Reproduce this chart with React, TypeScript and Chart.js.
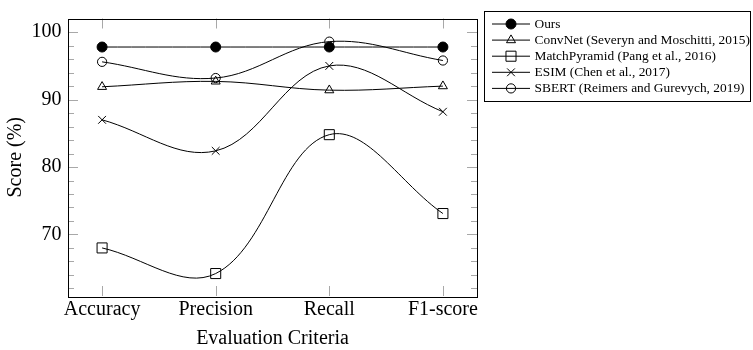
import React, { useEffect, useRef } from "react";
import { Chart, registerables } from "chart.js";
import { drawPoint } from "chart.js/helpers";

Chart.register(...registerables);

const categories = ["Accuracy", "Precision", "Recall", "F1-score"];
const yTickValues = [70, 80, 90, 100];
const seriesNames = [
  "Ours",
  "ConvNet (Severyn and Moschitti, 2015)",
  "MatchPyramid (Pang et al., 2016)",
  "ESIM (Chen et al., 2017)",
  "SBERT (Reimers and Gurevych, 2019)",
];
const oursValues = [97.8, 97.8, 97.8, 97.8];
const convnetValues = [91.9, 92.7, 91.4, 92.0];
const matchPyramidValues = [68.0, 64.2, 84.8, 73.1];
const esimValues = [87.0, 82.4, 95.0, 88.2];
const sbertValues = [95.6, 93.2, 98.6, 95.8];

const SERIF = "'Liberation Serif', 'Times New Roman', serif";

const markerStyles = [
  { pointStyle: "circle", radius: 5, fill: "#000" },
  { pointStyle: "triangle", radius: 5.2, fill: "rgba(0,0,0,0)" },
  { pointStyle: "rect", radius: 7.1, fill: "rgba(0,0,0,0)" },
  { pointStyle: "crossRot", radius: 5.5, fill: "rgba(0,0,0,0)" },
  { pointStyle: "circle", radius: 4.6, fill: "rgba(0,0,0,0)" },
];

const allValues = [oursValues, convnetValues, matchPyramidValues, esimValues, sbertValues];

const framePlugin = {
  id: "pgfFrame",
  beforeDatasetsDraw(chart: any) {
    const { ctx, chartArea } = chart;
    const xs = chart.scales.x;
    const ys = chart.scales.y;
    ctx.save();
    ctx.strokeStyle = "#a8a8a8";
    ctx.lineWidth = 1;
    ctx.beginPath();
    categories.forEach((_, i) => {
      const px = Math.round(xs.getPixelForValue(i)) + 0.5;
      ctx.moveTo(px, chartArea.bottom);
      ctx.lineTo(px, chartArea.bottom - 10);
      ctx.moveTo(px, chartArea.top);
      ctx.lineTo(px, chartArea.top + 10);
    });
    for (let v = 62; v <= 102; v += 2) {
      const py = Math.round(ys.getPixelForValue(v)) + 0.5;
      if (py < chartArea.top || py > chartArea.bottom) continue;
      const len = v % 10 === 0 ? 10 : 6;
      ctx.moveTo(chartArea.left, py);
      ctx.lineTo(chartArea.left + len, py);
      ctx.moveTo(chartArea.right, py);
      ctx.lineTo(chartArea.right - len, py);
    }
    ctx.stroke();
    ctx.restore();
  },
  afterDatasetsDraw(chart: any) {
    const { ctx, chartArea } = chart;
    ctx.save();
    ctx.strokeStyle = "#000";
    ctx.lineWidth = 1;
    ctx.strokeRect(
      Math.round(chartArea.left) + 0.5,
      Math.round(chartArea.top) + 0.5,
      Math.round(chartArea.right - chartArea.left),
      Math.round(chartArea.bottom - chartArea.top)
    );
    // legend
    const bx = 484.5, by = 11.5, bw = 266, bh = 90;
    ctx.strokeRect(bx, by, bw, bh);
    ctx.font = `13.4px ${SERIF}`;
    ctx.textBaseline = "middle";
    ctx.textAlign = "left";
    ctx.fillStyle = "#000";
    seriesNames.forEach((name, i) => {
      const y = 24 + i * 16.1;
      ctx.beginPath();
      ctx.lineWidth = 1;
      ctx.strokeStyle = "#000";
      ctx.moveTo(492, y);
      ctx.lineTo(530, y);
      ctx.stroke();
      const m = markerStyles[i];
      ctx.fillStyle = m.fill;
      ctx.strokeStyle = "#000";
      drawPoint(ctx, { pointStyle: m.pointStyle, radius: m.radius, rotation: 0, borderWidth: 1 } as any, 511, y);
      ctx.fillStyle = "#000";
      ctx.fillText(name, 534.5, y + 0.5);
    });
    ctx.restore();
  },
};

export default function App() {
  const canvasRef = useRef<HTMLCanvasElement | null>(null);

  useEffect(() => {
    if (!canvasRef.current) return;
    const datasets = allValues.map((vals, i) => ({
      label: seriesNames[i],
      data: vals.map((v, j) => ({ x: j, y: v })),
      borderColor: "#000",
      borderWidth: 1,
      backgroundColor: markerStyles[i].fill,
      pointBackgroundColor: markerStyles[i].fill,
      pointBorderColor: "#000",
      pointBorderWidth: 1,
      pointStyle: markerStyles[i].pointStyle,
      pointRadius: markerStyles[i].radius,
      tension: 0.37,
      fill: false,
      clip: false as any,
    }));

    const chart = new Chart(canvasRef.current, {
      type: "line",
      data: { datasets },
      plugins: [framePlugin],
      options: {
        responsive: false,
        animation: false,
        devicePixelRatio: 1,
        layout: { padding: { left: 0, right: 276, top: 10, bottom: 0 } },
        plugins: { legend: { display: false }, tooltip: { enabled: false } },
        scales: {
          x: {
            type: "linear",
            min: -0.3,
            max: 3.3,
            grid: { display: false, drawTicks: false },
            border: { display: false },
            afterBuildTicks: (scale: any) => {
              scale.ticks = categories.map((_, i) => ({ value: i }));
            },
            afterFit: (scale: any) => {
              scale.height = 54;
            },
            ticks: {
              autoSkip: false,
              maxRotation: 0,
              padding: 2,
              color: "#000",
              font: { family: SERIF, size: 20, lineHeight: 1.2 },
              callback: (v: any) => categories[v as number] ?? "",
            },
            title: {
              display: true,
              text: "Evaluation Criteria",
              color: "#000",
              font: { family: SERIF, size: 20, lineHeight: 1.1 },
              padding: { top: 0, bottom: 0 },
            },
          },
          y: {
            type: "linear",
            min: 60.87,
            max: 102.03,
            grid: { display: false, drawTicks: false },
            border: { display: false },
            afterBuildTicks: (scale: any) => {
              scale.ticks = yTickValues.map((v) => ({ value: v }));
            },
            afterFit: (scale: any) => {
              scale.width = 68;
            },
            ticks: {
              padding: 6.5,
              color: "#000",
              font: { family: SERIF, size: 20 },
            },
            title: {
              display: true,
              text: "Score (%)",
              color: "#000",
              font: { family: SERIF, size: 20, lineHeight: 1.2 },
              padding: { top: 4, bottom: 0 },
            },
          },
        },
      },
    });
    return () => chart.destroy();
  }, []);

  return (
    <div style={{ position: "absolute", left: 0, top: 0, width: 753, height: 350, background: "#fff" }}>
      <canvas ref={canvasRef} width={753} height={350} style={{ width: 753, height: 350, display: "block" }} />
    </div>
  );
}
